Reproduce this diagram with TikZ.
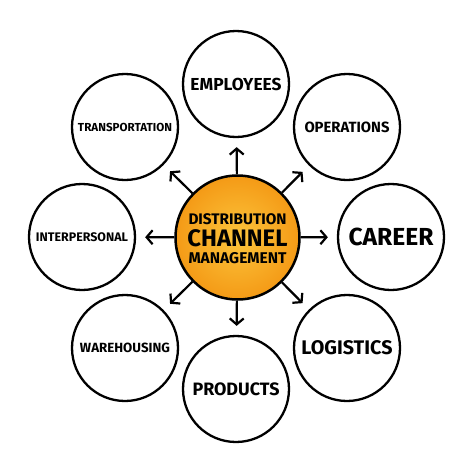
\documentclass[tikz,border=0pt]{standalone}
\usepackage{fontspec}
\setmainfont{Fira Sans}
\usetikzlibrary{arrows.meta}
\definecolor{orin}{HTML}{FCC53C}
\definecolor{orout}{HTML}{F49A16}
\newcommand{\fitw}[2]{\resizebox{#1}{!}{\bfseries #2}}
\tikzset{
  outer/.style={circle, draw=black, line width=2.3pt, minimum size=106pt, inner sep=0pt, fill=white},
  hub/.style={circle, draw=black, line width=2.5pt, minimum size=124pt, inner sep=0pt, inner color=orin, outer color=orout},
  hubtext/.style={inner sep=0pt},
  arr/.style={line width=2.2pt, -{Straight Barb[length=6pt,width=14pt,line width=2.2pt]}, shorten >=9pt}
}
\begin{document}
\begin{tikzpicture}[x=1pt,y=-1pt]
\useasboundingbox (0,0) rectangle (474,474);
\fill[white] (0,0) rectangle (474,474);
\node[hub] (c) at (237.5,237.5) {};
\node[hubtext] (t1) at (237.5,219) {\fitw{98pt}{DISTRIBUTION}};
\node[hubtext] (t2) at (237.5,238.5) {\fitw{100pt}{CHANNEL}};
\node[hubtext] (t3) at (237.5,258) {\fitw{98pt}{MANAGEMENT}};
\node[outer] (emp) at (236,84) {\fitw{91pt}{EMPLOYEES}};
\node[outer] (ops) at (347,127) {\fitw{85pt}{OPERATIONS}};
\node[outer] (car) at (391,237) {\fitw{85pt}{CAREER}};
\node[outer] (log) at (347,348) {\fitw{91pt}{LOGISTICS}};
\node[outer] (pro) at (236,389) {\fitw{87pt}{PRODUCTS}};
\node[outer] (war) at (125,348) {\fitw{90pt}{WAREHOUSING}};
\node[outer] (int) at (82,237) {\fitw{92pt}{INTERPERSONAL}};
\node[outer] (tra) at (125,127) {\fitw{94pt}{TRANSPORTATION}};
\foreach \t in {emp,ops,car,log,pro,war,int,tra}
  \draw[arr] (c) -- (\t);
\end{tikzpicture}
\end{document}
